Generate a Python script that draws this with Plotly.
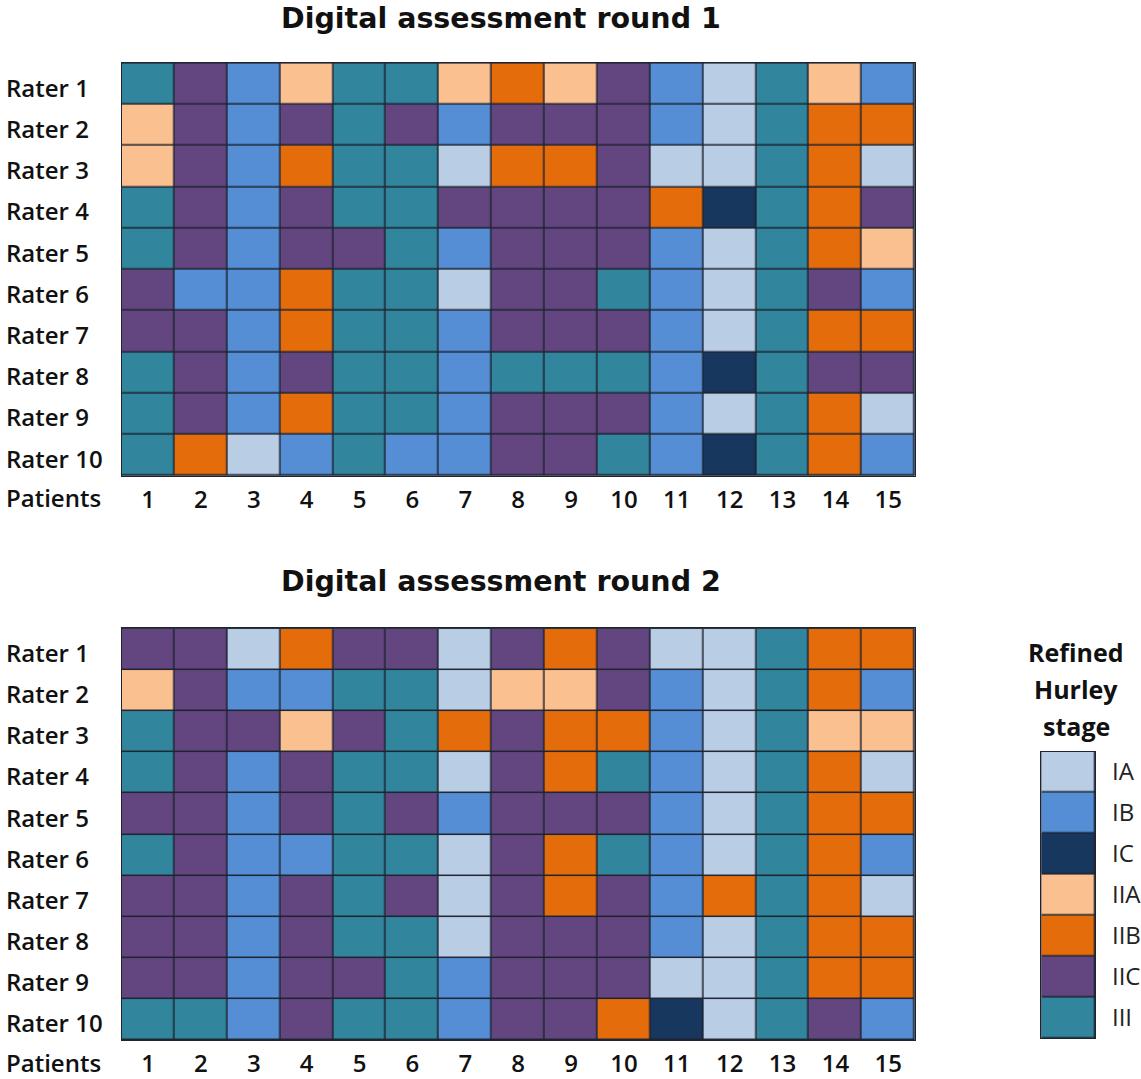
import plotly.graph_objects as go

stages = ["IA", "IB", "IC", "IIA", "IIB", "IIC", "III"]
stage_colors = ["#B9CDE5", "#558ED5", "#17375E", "#FAC090", "#E46C0A", "#634680", "#31859C"]
patients = [str(i) for i in range(1, 16)]
raters = [f"Rater {i}" for i in range(1, 11)]

round1 = [
    ["III", "IIC", "IB", "IIA", "III", "III", "IIA", "IIB", "IIA", "IIC", "IB", "IA", "III", "IIA", "IB"],
    ["IIA", "IIC", "IB", "IIC", "III", "IIC", "IB", "IIC", "IIC", "IIC", "IB", "IA", "III", "IIB", "IIB"],
    ["IIA", "IIC", "IB", "IIB", "III", "III", "IA", "IIB", "IIB", "IIC", "IA", "IA", "III", "IIB", "IA"],
    ["III", "IIC", "IB", "IIC", "III", "III", "IIC", "IIC", "IIC", "IIC", "IIB", "IC", "III", "IIB", "IIC"],
    ["III", "IIC", "IB", "IIC", "IIC", "III", "IB", "IIC", "IIC", "IIC", "IB", "IA", "III", "IIB", "IIA"],
    ["IIC", "IB", "IB", "IIB", "III", "III", "IA", "IIC", "IIC", "III", "IB", "IA", "III", "IIC", "IB"],
    ["IIC", "IIC", "IB", "IIB", "III", "III", "IB", "IIC", "IIC", "IIC", "IB", "IA", "III", "IIB", "IIB"],
    ["III", "IIC", "IB", "IIC", "III", "III", "IB", "III", "III", "III", "IB", "IC", "III", "IIC", "IIC"],
    ["III", "IIC", "IB", "IIB", "III", "III", "IB", "IIC", "IIC", "IIC", "IB", "IA", "III", "IIB", "IA"],
    ["III", "IIB", "IA", "IB", "III", "IB", "IB", "IIC", "IIC", "III", "IB", "IC", "III", "IIB", "IB"],
]

round2 = [
    ["IIC", "IIC", "IA", "IIB", "IIC", "IIC", "IA", "IIC", "IIB", "IIC", "IA", "IA", "III", "IIB", "IIB"],
    ["IIA", "IIC", "IB", "IB", "III", "III", "IA", "IIA", "IIA", "IIC", "IB", "IA", "III", "IIB", "IB"],
    ["III", "IIC", "IIC", "IIA", "IIC", "III", "IIB", "IIC", "IIB", "IIB", "IB", "IA", "III", "IIA", "IIA"],
    ["III", "IIC", "IB", "IIC", "III", "III", "IA", "IIC", "IIB", "III", "IB", "IA", "III", "IIB", "IA"],
    ["IIC", "IIC", "IB", "IIC", "III", "IIC", "IB", "IIC", "IIC", "IIC", "IB", "IA", "III", "IIB", "IIB"],
    ["III", "IIC", "IB", "IB", "III", "III", "IA", "IIC", "IIB", "III", "IB", "IA", "III", "IIB", "IB"],
    ["IIC", "IIC", "IB", "IIC", "III", "IIC", "IA", "IIC", "IIB", "IIC", "IB", "IIB", "III", "IIB", "IA"],
    ["IIC", "IIC", "IB", "IIC", "III", "III", "IA", "IIC", "IIC", "IIC", "IB", "IA", "III", "IIB", "IIB"],
    ["IIC", "IIC", "IB", "IIC", "IIC", "III", "IB", "IIC", "IIC", "IIC", "IA", "IA", "III", "IIB", "IIB"],
    ["III", "III", "IB", "IIC", "III", "III", "IB", "IIC", "IIC", "IIB", "IC", "IA", "III", "IIC", "IB"],
]

titles = ["Digital assessment round 1", "Digital assessment round 2"]
legend_title_lines = ["Refined", "Hurley", "stage"]

# discrete colorscale
n = len(stages)
colorscale = []
for i, c in enumerate(stage_colors):
    colorscale.append([i / n, c])
    colorscale.append([(i + 1) / n, c])

def codes(grid):
    return [[stages.index(s) for s in row] for row in grid]

FONT = "Open Sans"
GRID = "#1E2430"
W, H = 1141, 1079

def px(x):
    return x / W

def py(y):
    return 1 - y / H

fig = go.Figure()

common = dict(colorscale=colorscale, zmin=-0.5, zmax=n - 0.5, showscale=False,
              xgap=1.5, ygap=1.5, hoverinfo="skip")

fig.add_trace(go.Heatmap(z=codes(round1), x=patients, y=raters, xaxis="x", yaxis="y", **common))
fig.add_trace(go.Heatmap(z=codes(round2), x=patients, y=raters, xaxis="x2", yaxis="y2", **common))
fig.add_trace(go.Heatmap(z=[[i] for i in range(n)], x=["stage"], y=stages, xaxis="x3", yaxis="y3", **common))

xdom = [px(122), px(918)]
ydom1 = [py(478), py(63)]
ydom2 = [py(1045), py(631)]
xdom3 = [px(1045), px(1099)]
ydom3 = [py(1043), py(755)]

tickfont = dict(family=FONT, size=24, color="#111111", weight=600)
axline = dict(showline=True, linecolor=GRID, linewidth=1, mirror=True, showgrid=False, zeroline=False, ticks="")

fig.update_layout(
    width=W, height=H,
    margin=dict(l=0, r=0, t=0, b=0),
    paper_bgcolor="white", plot_bgcolor=GRID,
    xaxis=dict(domain=xdom, anchor="y", tickfont=tickfont, ticklabelstandoff=2, **axline),
    yaxis=dict(domain=ydom1, anchor="x", autorange="reversed", showticklabels=False, **axline),
    xaxis2=dict(domain=xdom, anchor="y2", tickfont=tickfont, ticklabelstandoff=2, **axline),
    yaxis2=dict(domain=ydom2, anchor="x2", autorange="reversed", showticklabels=False, **axline),
    xaxis3=dict(domain=xdom3, anchor="y3", showticklabels=False, **axline),
    yaxis3=dict(domain=ydom3, anchor="x3", autorange="reversed", side="right",
                tickfont=dict(family=FONT, size=24, color="#222222"), ticklabelstandoff=11, **axline),
)

annotations = []
# titles
for t, yy in zip(titles, [19, 584]):
    annotations.append(dict(text=t, xref="paper", yref="paper", x=px(503), y=py(yy),
                            xanchor="center", yanchor="middle", showarrow=False,
                            font=dict(family="DejaVu Sans", size=28.5, color="#111111", weight="bold")))
# rater labels (left aligned)
for yr in ["y", "y2"]:
    for r in raters:
        annotations.append(dict(text=r, xref="paper", yref=yr, x=px(4), y=r,
                                xanchor="left", yanchor="middle", showarrow=False,
                                yshift=-3, font=tickfont))
# patients labels
for yy in [500, 1067]:
    annotations.append(dict(text="Patients", xref="paper", yref="paper", x=px(4), y=py(yy),
                            xanchor="left", yanchor="middle", showarrow=False, font=tickfont))
# legend title
for line, yy in zip(legend_title_lines, [655, 692, 729]):
    annotations.append(dict(text=line, xref="paper", yref="paper", x=px(1080), y=py(yy),
                            xanchor="center", yanchor="middle", showarrow=False,
                            font=dict(family=FONT, size=25, color="#111111", weight="bold")))
fig.update_layout(annotations=annotations)

fig.write_html(
    "out.html",
    config={"displayModeBar": False},
    post_script="document.body.style.margin='0';document.body.style.overflow='hidden';"
                "document.documentElement.style.overflow='hidden';",
)
